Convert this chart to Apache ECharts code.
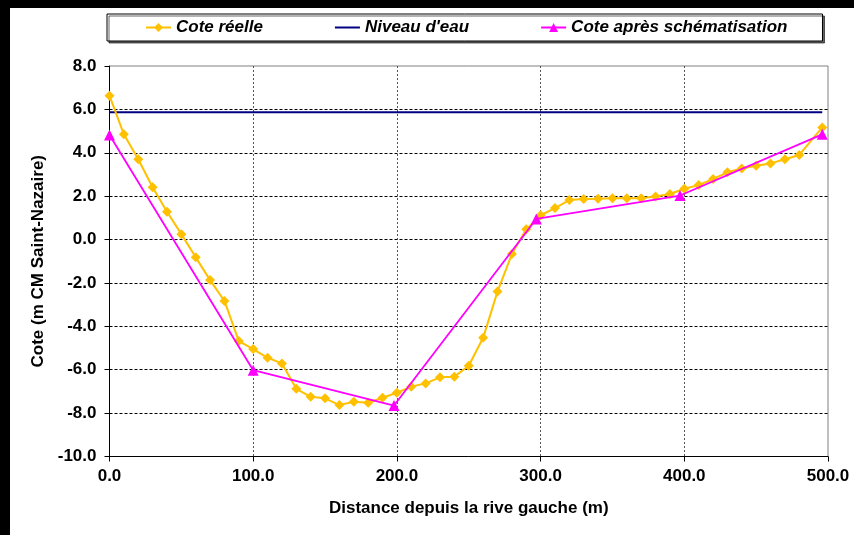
<!DOCTYPE html>
<html>
<head>
<meta charset="utf-8">
<script src="https://cdn.jsdelivr.net/npm/echarts@6/dist/echarts.min.js"></script>
<style>
html,body{margin:0;padding:0;background:#fff;}
#c{width:854px;height:535px;}
</style>
</head>
<body>
<div id="c"></div>
<script>
// ---- data ----
var seriesNames = ["Cote réelle", "Niveau d'eau", "Cote après schématisation"];
var distReal = [0,10,20,30,40,50,60,70,80,90,100,110,120,130,140,150,160,170,180,190,200,210,220,230,240,250,260,270,280,290,300,310,320,330,340,350,360,370,380,390,400,410,420,430,440,450,460,470,480,496];
var coteReal = [6.63,4.85,3.70,2.41,1.28,0.25,-0.82,-1.87,-2.83,-4.68,-5.05,-5.45,-5.71,-6.88,-7.25,-7.32,-7.63,-7.48,-7.52,-7.29,-7.06,-6.78,-6.63,-6.35,-6.32,-5.82,-4.53,-2.40,-0.67,0.47,1.12,1.45,1.82,1.87,1.88,1.90,1.90,1.90,1.98,2.10,2.34,2.51,2.79,3.10,3.28,3.40,3.51,3.70,3.90,5.17];
var distWater = [0,496];
var coteWater = [5.87,5.87];
var distSchema = [0,100,198,297,397,496];
var coteSchema = [4.82,-6.02,-7.65,0.95,2.03,4.85];
var xTicks = [0,100,200,300,400,500];
var yTicks = [-10,-8,-6,-4,-2,0,2,4,6,8];
var xTitle = "Distance depuis la rive gauche (m)";
var yTitle = "Cote (m CM Saint-Nazaire)";

function pairs(xs, ys){ return xs.map(function(x,i){ return [x, ys[i]]; }); }

var FONT = '"Liberation Sans", Arial, sans-serif';
var chart = echarts.init(document.getElementById('c'), null, {renderer:'canvas'});
chart.setOption({
  animation:false,
  backgroundColor:'#fff',
  graphic:[
    {type:'rect', shape:{x:0,y:0,width:10,height:535}, style:{fill:'#000'}, z:100},
    {type:'rect', shape:{x:0,y:0,width:854,height:8}, style:{fill:'#000'}, z:100}
  ],
  legend:{
    left:107, top:14,
    padding:[5,35,5,38],
    itemGap:71, itemWidth:25, itemHeight:11,
    borderColor:'#000', borderWidth:1,
    backgroundColor:'#fff',
    shadowColor:'rgba(0,0,0,0.6)', shadowOffsetX:2, shadowOffsetY:2, shadowBlur:0,
    textStyle:{fontFamily:FONT, fontSize:17, fontWeight:'bold', fontStyle:'italic', color:'#000'},
    data:[
      {name:seriesNames[0]},
      {name:seriesNames[1], itemStyle:{opacity:0}},
      {name:seriesNames[2]}
    ]
  },
  grid:{left:109.5, right:26, top:66, bottom:78.5, show:true, borderColor:'#808080', borderWidth:1, containLabel:false},
  xAxis:{
    type:'value', min:xTicks[0], max:xTicks[xTicks.length-1], interval:100,
    name:xTitle, nameLocation:'middle', nameGap:43,
    nameTextStyle:{fontFamily:FONT, fontSize:17, fontWeight:'bold', color:'#000'},
    axisLine:{show:true, onZero:false, lineStyle:{color:'#000', width:1}},
    axisTick:{show:true, length:5, lineStyle:{color:'#000'}},
    axisLabel:{margin:11, fontFamily:FONT, fontSize:17, fontWeight:'bold', color:'#000', formatter:function(v){return v.toFixed(1);}},
    splitLine:{show:true, showMinLine:false, showMaxLine:false, lineStyle:{color:'#555', type:[2,2], width:1}}
  },
  yAxis:{
    type:'value', min:yTicks[0], max:yTicks[yTicks.length-1], interval:2,
    name:yTitle, nameLocation:'middle', nameGap:57, nameRotate:90,
    nameTextStyle:{fontFamily:FONT, fontSize:17, fontWeight:'bold', color:'#000'},
    axisLine:{show:true, onZero:false, lineStyle:{color:'#000', width:1}},
    axisTick:{show:true, length:5, lineStyle:{color:'#000'}},
    axisLabel:{margin:13, fontFamily:FONT, fontSize:17, fontWeight:'bold', color:'#000', formatter:function(v){return v.toFixed(1);}},
    splitLine:{show:true, showMinLine:false, showMaxLine:false, lineStyle:{color:'#000', type:[3,2], width:1}}
  },
  series:[
    {name:seriesNames[0], type:'line', data:pairs(distReal, coteReal),
     symbol:'diamond', symbolSize:10, lineStyle:{color:'#FFC000', width:2}, itemStyle:{color:'#FFC000'}, z:3},
    {name:seriesNames[1], type:'line', data:pairs(distWater, coteWater),
     symbol:'none', lineStyle:{color:'#000080', width:2}, itemStyle:{color:'#000080'}, z:2},
    {name:seriesNames[2], type:'line', data:pairs(distSchema, coteSchema),
     symbol:'triangle', symbolSize:11, lineStyle:{color:'#FF00FF', width:1.8}, itemStyle:{color:'#FF00FF'}, z:4}
  ]
});
</script>
</body>
</html>
